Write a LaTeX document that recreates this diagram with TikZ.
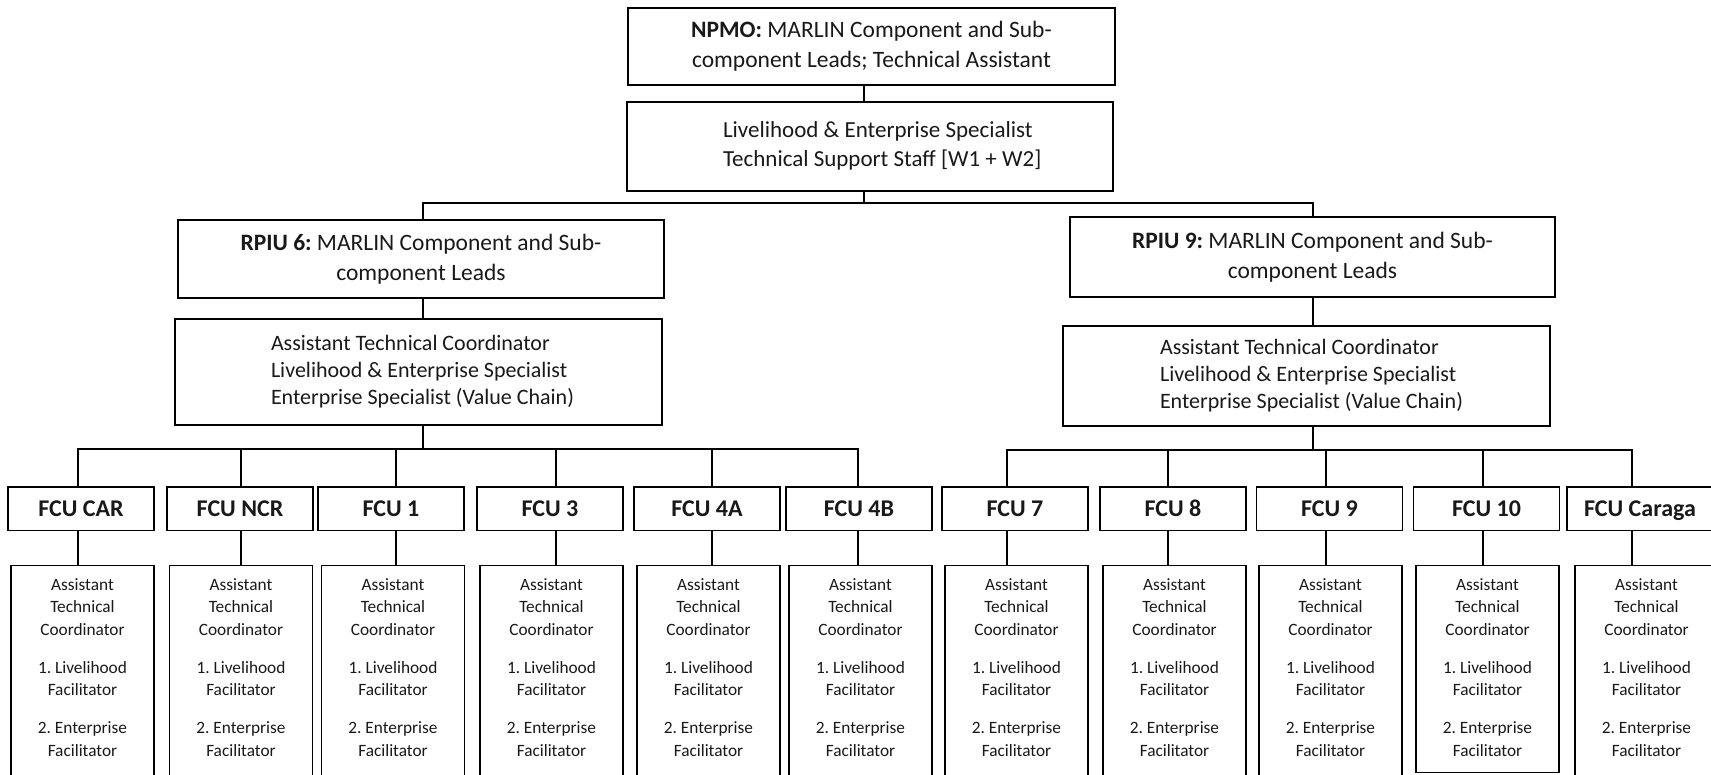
\documentclass[tikz,border=0pt]{standalone}
\usepackage{fontspec}
\setmainfont{Carlito}
\newcommand\staffbody[1]{\parbox[c][#1][t]{143pt}{\centering\fontsize{17.3}{22.5}\selectfont
\rule{0pt}{24.5pt}Assistant\\Technical\\Coordinator\\[15.5pt]1.\ Livelihood\\Facilitator\\[15.5pt]2.\ Enterprise\\Facilitator\par}}
\begin{document}
\begin{tikzpicture}[x=1pt,y=-1pt,
  box/.style={draw=black, line width=1.3pt, inner sep=0pt, align=center, text=black!90},
  headbox/.style={box, font=\fontsize{23.5}{30}\selectfont},
  fcubox/.style={box, minimum width=146pt, minimum height=43.5pt, text height=15.5pt, text depth=0pt, font=\fontsize{24}{28}\selectfont\bfseries},
  staffbox/.style={box, anchor=north},
  conn/.style={draw=black, line width=2.4pt}]
\useasboundingbox (0,0) rectangle (1711,774);
\clip (0,0) rectangle (1711,774);

% top level
\node[headbox, minimum width=487pt, minimum height=77pt] (npmo) at (871.5,46.5)
  {\textbf{NPMO:}\ MARLIN Component and Sub-\\component Leads; Technical Assistant};
\node[box, minimum width=486pt, minimum height=89pt, font=\fontsize{23}{28.4}\selectfont] (tss) at (870,146.5)
  {\makebox[486pt][l]{\hspace*{96pt}\raisebox{4pt}{\begin{tabular}{@{}l@{}}Livelihood \& Enterprise Specialist\\Technical Support Staff [W1 + W2]\end{tabular}}}};

% regional level
\node[headbox, minimum width=486pt, minimum height=78pt] (rpiu6) at (421,259)
  {\textbf{RPIU 6:}\ MARLIN Component and Sub-\\component Leads};
\node[box, minimum width=487pt, minimum height=106pt, font=\fontsize{22}{27}\selectfont] (staff6) at (418.5,372)
  {\makebox[487pt][l]{\hspace*{96pt}\raisebox{3pt}{\begin{tabular}{@{}l@{}}Assistant Technical Coordinator\\Livelihood \& Enterprise Specialist\\Enterprise Specialist (Value Chain)\end{tabular}}}};
\node[headbox, minimum width=485pt, minimum height=80pt] (rpiu9) at (1312.5,257)
  {\textbf{RPIU 9:}\ MARLIN Component and Sub-\\component Leads};
\node[box, minimum width=487pt, minimum height=100pt, font=\fontsize{22}{27}\selectfont] (staff9) at (1306.5,376)
  {\makebox[487pt][l]{\hspace*{97pt}\raisebox{1.5pt}{\begin{tabular}{@{}l@{}}Assistant Technical Coordinator\\Livelihood \& Enterprise Specialist\\Enterprise Specialist (Value Chain)\end{tabular}}}};

% FCU level
\node[fcubox] (car)    at (81,508.75)    {FCU CAR};
\node[fcubox] (ncr)    at (240,508.75)   {FCU NCR};
\node[fcubox] (one)    at (391,508.75)   {FCU 1};
\node[fcubox] (three)  at (550,508.75)   {FCU 3};
\node[fcubox] (fourA)  at (707,508.75)   {FCU 4A};
\node[fcubox] (fourB)  at (859,508.75)   {FCU 4B};
\node[fcubox] (seven)  at (1015,508.75)  {FCU 7};
\node[fcubox] (eight)  at (1173,508.75)  {FCU 8};
\node[fcubox] (nine)   at (1329.5,508.75){FCU 9};
\node[fcubox] (ten)    at (1486.5,508.75){FCU 10};
\node[fcubox] (caraga) at (1640,508.75)  {FCU Caraga};

% staff boxes
\node[staffbox] (bcar)    at (82.5,565)   {\staffbody{230pt}};
\node[staffbox] (bncr)    at (241,565)    {\staffbody{230pt}};
\node[staffbox] (bone)    at (393,565)    {\staffbody{230pt}};
\node[staffbox] (bthree)  at (551.5,565)  {\staffbody{230pt}};
\node[staffbox] (bfourA)  at (708.5,565)  {\staffbody{230pt}};
\node[staffbox] (bfourB)  at (860.5,565)  {\staffbody{230pt}};
\node[staffbox] (bseven)  at (1016.5,565) {\staffbody{230pt}};
\node[staffbox] (beight)  at (1174.5,565) {\staffbody{230pt}};
\node[staffbox] (bnine)   at (1330.5,565) {\staffbody{230pt}};
\node[staffbox] (bten)    at (1487.5,565) {\staffbody{207pt}};
\node[staffbox] (bcaraga) at (1646.5,565) {\staffbody{230pt}};

% connectors, top
\coordinate (tb) at (864,203);
\draw[conn] ([xshift=-7.5pt]npmo.south) -- ([xshift=-7.5pt]npmo.south |- tss.north);
\draw[conn] ([xshift=-6pt]tss.south) -- (tb);
\draw[conn] ([xshift=2pt]rpiu6.north) |- (tb) -| ([xshift=0.5pt]rpiu9.north);

% left group
\coordinate (lb) at (423,449);
\draw[conn] ([xshift=2pt]rpiu6.south) -- ([xshift=2pt]rpiu6.south |- staff6.north);
\draw[conn] ([xshift=2pt]rpiu6.south |- staff6.south) -- (lb);
\draw[conn] ([xshift=-3pt]car.north) |- (lb) -| ([xshift=-1pt]fourB.north);
\foreach \n/\d in {ncr/1, one/5, three/6, fourA/5}
  \draw[conn] ([xshift=\d pt]\n.north) -- ([xshift=\d pt]\n.north |- lb);

% right group
\coordinate (rb) at (1313,450);
\draw[conn] ([xshift=0.5pt]rpiu9.south) -- ([xshift=0.5pt]rpiu9.south |- staff9.north);
\draw[conn] ([xshift=0.5pt]rpiu9.south |- staff9.south) -- (rb);
\draw[conn] ([xshift=-8pt]seven.north) |- (rb) -| ([xshift=-8pt]caraga.north);
\foreach \n/\d in {eight/-5, nine/-3.5, ten/-3.5}
  \draw[conn] ([xshift=\d pt]\n.north) -- ([xshift=\d pt]\n.north |- rb);

% FCU to staff boxes
\foreach \n/\d in {car/-3, ncr/1, one/5, three/6, fourA/5, fourB/-1, seven/-8, eight/-5, nine/-3.5, ten/-3.5, caraga/-8}
  \draw[conn] ([xshift=\d pt]\n.south) -- ([xshift=\d pt]\n.south |- b\n.north);
\end{tikzpicture}
\end{document}
